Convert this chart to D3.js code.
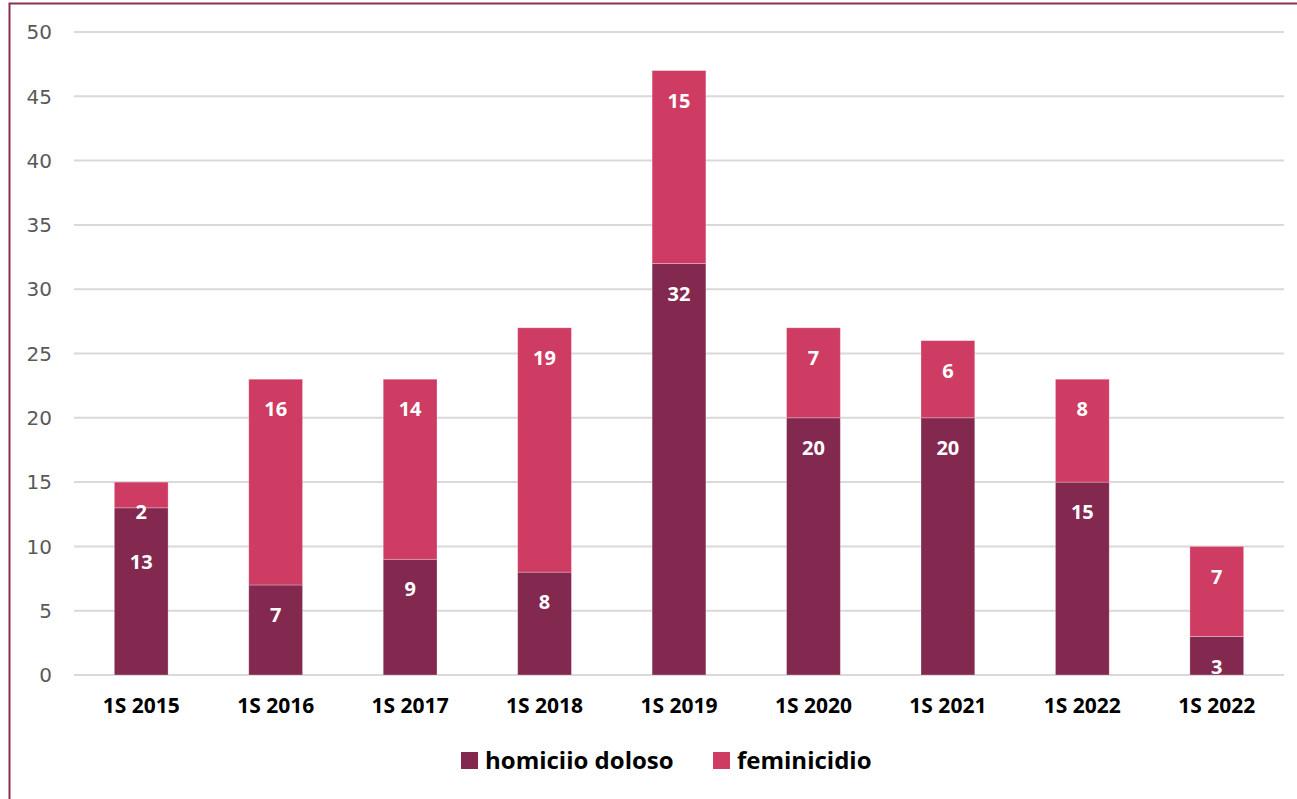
<!DOCTYPE html>
<html>
<head>
<meta charset="utf-8">
<script src="https://cdn.jsdelivr.net/npm/d3@7"></script>
<style>
  html, body { margin: 0; padding: 0; background: #fff; }
  svg { display: block; }
</style>
</head>
<body>
<svg id="chart" width="1297" height="799"></svg>
<script>
// barras apiladas: homicidio doloso + feminicidio por semestre
const categories = ["1S 2015", "1S 2016", "1S 2017", "1S 2018", "1S 2019", "1S 2020", "1S 2021", "1S 2022", "1S 2022 "];
const homicidio = [13, 7, 9, 8, 32, 20, 20, 15, 3];
const feminicidio = [2, 16, 14, 19, 15, 7, 6, 8, 7];
const yTicks = [0, 5, 10, 15, 20, 25, 30, 35, 40, 45, 50];
const seriesNames = ["homiciio doloso", "feminicidio"];
const COLORS = ["#83284F", "#CE3B63"];

const W = 1297, H = 799, ML = 74, MR = 13, TOP = 32, BOT = 124;
const svg = d3.select("#chart");

// marco
svg.append("path")
  .attr("d", `M9.5,${H} L9.5,3.5 L${W},3.5`)
  .attr("fill", "none").attr("stroke", "#8B2D55").attr("stroke-width", 2);

const x = d3.scaleBand().domain(categories).range([ML, W - MR]).paddingInner(0.6).paddingOuter(0.3);
const y = d3.scaleLinear().domain([0, 50]).range([H - BOT, TOP]);

// rejilla y etiquetas
yTicks.forEach(v => {
  svg.append("line")
    .attr("x1", ML).attr("x2", W - MR)
    .attr("y1", y(v)).attr("y2", y(v))
    .attr("stroke", "#D9D9D9").attr("stroke-width", 2);
  svg.append("text")
    .attr("x", 52).attr("y", y(v))
    .attr("dy", "0.36em")
    .attr("text-anchor", "end")
    .attr("style", "font:20px 'DejaVu Sans';fill:#595959")
    .text(v);
});

const stack = d3.stack().keys([0, 1]).value((d, k) => d[k]);
const rows = categories.map((c, i) => [homicidio[i], feminicidio[i]]);
const layers = stack(rows);

layers.forEach((layer, k) => {
  layer.forEach((d, i) => {
    svg.append("rect")
      .attr("x", x(categories[i])).attr("width", x.bandwidth())
      .attr("y", y(d[1])).attr("height", y(d[0]) - y(d[1]))
      .attr("fill", COLORS[k])
      .attr("stroke", "rgba(255,255,255,0.35)").attr("stroke-width", 0.8);
  });
});

// etiquetas de datos (extremo interior, con empuje si chocan)
categories.forEach((c, i) => {
  const cx = x(c) + x.bandwidth() / 2;
  const topF = y(layers[1][i][1]);
  const topH = y(layers[0][i][1]);
  const fy = topF + 30;
  const hy = Math.max(topH + 30, fy + 50);
  [[fy, feminicidio[i]], [hy, homicidio[i]]].forEach(([ly, v]) => {
    svg.append("text")
      .attr("x", cx).attr("y", ly).attr("dy", "0.36em")
      .attr("text-anchor", "middle")
      .attr("style", "font:700 20px 'Open Sans';fill:#fff")
      .text(v);
  });
  svg.append("text")
    .attr("x", cx).attr("y", 705).attr("dy", "0.36em")
    .attr("text-anchor", "middle")
    .attr("style", "font:700 21px 'Open Sans';fill:#000")
    .text(c.trim());
});

// leyenda
const legX = [461, 713];
seriesNames.forEach((n, k) => {
  svg.append("rect")
    .attr("x", legX[k]).attr("y", 752).attr("width", 17).attr("height", 17)
    .attr("fill", COLORS[k]);
  svg.append("text")
    .attr("x", legX[k] + 24).attr("y", 760).attr("dy", "0.36em")
    .attr("style", "font:700 24px 'Open Sans';fill:#000")
    .text(n);
});
</script>
</body>
</html>
